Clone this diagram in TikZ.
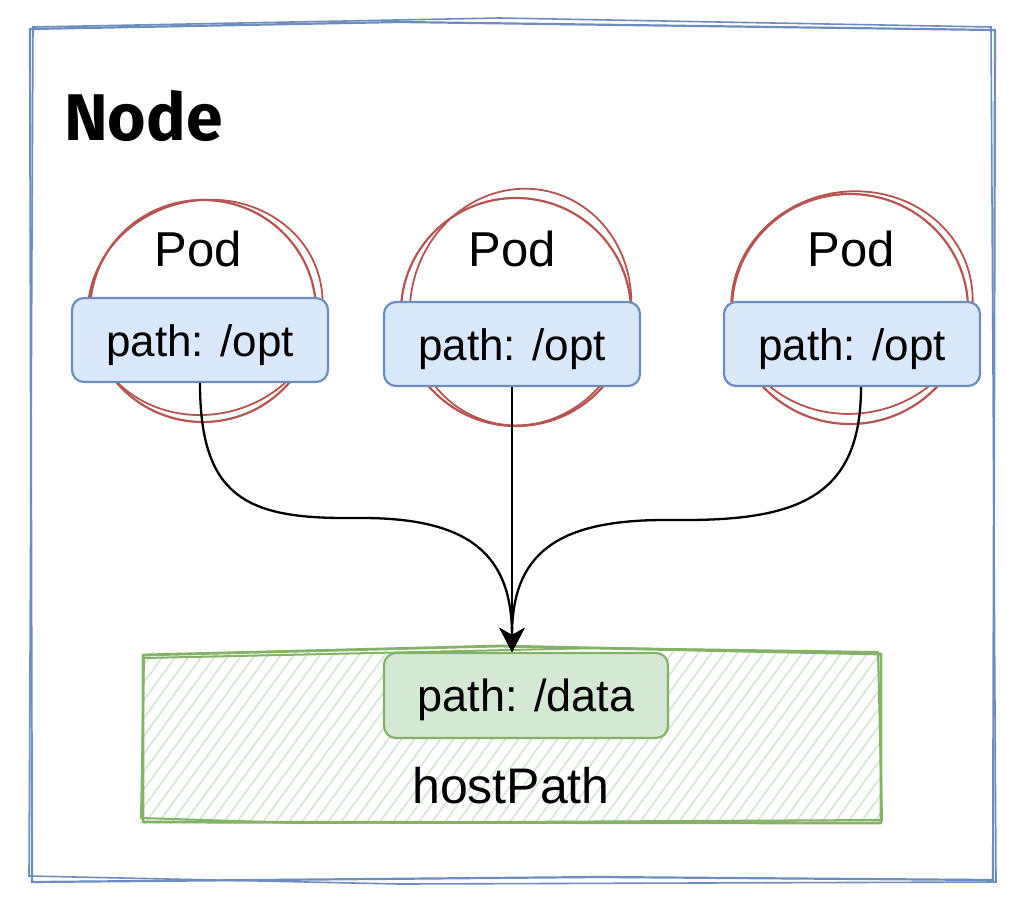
\documentclass[tikz,border=0pt]{standalone}
\usepackage{fontspec}
\setmainfont{Liberation Sans}
\newfontfamily\handfont{Fira Sans}
\usetikzlibrary{arrows.meta,shapes.geometric}
\definecolor{blueline}{HTML}{6C8EBF}
\definecolor{bluefill}{HTML}{DAE8FC}
\definecolor{greenline}{HTML}{82B366}
\definecolor{greenfill}{HTML}{D5E8D4}
\definecolor{redline}{HTML}{B85450}
\definecolor{hatchcol}{HTML}{CFE5CD}
\begin{document}
\begin{tikzpicture}[x=1pt,y=-1pt,
  pathbox/.style={draw=blueline,fill=bluefill,line width=2.2pt,rounded corners=12pt,
    minimum width=256pt,minimum height=84pt,inner sep=0pt,
    font=\fontsize{44}{44}\selectfont,text height=32pt,text depth=0pt},
  databox/.style={pathbox,draw=greenline,fill=greenfill,minimum width=284pt,minimum height=85pt,
    font=\fontsize{45}{45}\selectfont,text height=32.5pt},
  podcircle/.style={ellipse,draw=redline,line width=2.2pt,inner sep=0pt},
  podsketch/.style={draw=redline,line width=1.8pt},
  podlabel/.style={inner sep=0pt,font=\fontsize{49}{49}\selectfont,text height=35pt,text depth=0pt},
  outerline/.style={draw=blueline,line width=2.2pt},
  greenedge/.style={draw=greenline,line width=2.8pt,line join=round},
  conn/.style={draw=black,line width=2.3pt,-{Stealth[length=24pt,width=25pt,inset=7pt]}},
  hatchline/.style={draw=hatchcol,line width=1.4pt}
]
\useasboundingbox (0,0) rectangle (1024,913);
\fill[white] (0,0) rectangle (1024,913);

% outer Node frame (sketchy double stroke)
\draw[outerline] (30,29) -- (400,22) -- (995,30) -- (993,880) -- (600,877) -- (32,882) -- cycle;
\draw[outerline,line width=1.6pt] (33,27) -- (500,18) -- (991,27) -- (996,882) -- (400,884) -- (29,876) -- cycle;
\node[anchor=base west,inner sep=0pt,font=\handfont\bfseries\fontsize{66}{66}\selectfont] (nodelabel) at (64,140) {Node};

% pods: circles
\node[podcircle,minimum width=226pt,minimum height=222pt] (c1) at (203,311) {};
\draw[podsketch,rotate around={14:(203,311)}] (206,308) ellipse [x radius=118, y radius=107];
\node[podcircle,minimum width=230pt,minimum height=228pt] (c2) at (516,312) {};
\draw[podsketch,rotate around={-16:(516,312)}] (519,306) ellipse [x radius=110, y radius=119];
\node[podcircle,minimum width=236pt,minimum height=230pt] (c3) at (850,309) {};
\draw[podsketch,rotate around={10:(850,309)}] (853,303) ellipse [x radius=121, y radius=111];

\node[podlabel] (pod1) at (198,249) {Pod};
\node[podlabel] (pod2) at (512,249) {Pod};
\node[podlabel] (pod3) at (851,249) {Pod};

% path boxes
\node[pathbox] (b1) at (200,340) {path: /opt};
\node[pathbox] (b2) at (512,344) {path: /opt};
\node[pathbox] (b3) at (852,344) {path: /opt};

% hostPath area
\begin{scope}
  \clip (143,652) rectangle (881,823);
  \foreach \x in {0,13,...,900} {
    \draw[hatchline] (\x,826) -- (\x+130,648);
  }
\end{scope}
\draw[greenedge] (143,655) -- (500,646) -- (881,654) -- (881,823) -- (143,822) -- cycle;
\draw[greenedge,line width=2pt] (144,658) -- (600,648) -- (878,652) -- (882,820) -- (300,823) -- (141,818) -- cycle;
\node[inner sep=0pt,font=\fontsize{50}{50}\selectfont,text height=36pt,text depth=0pt] (hp) at (511,785) {hostPath};
\node[databox] (d) at (526,695.5) {path: /data};

% connectors
\coordinate (tip) at (512,652);
\draw[conn] (b1.south) .. controls (200,495) and (245,518) .. (345,518) -- (362,518)
  .. controls (470,518) and (512,555) .. (tip);
\draw[conn] (b2.south) -- (tip);
\draw[conn] ([xshift=9pt]b3.south) .. controls (861,495) and (800,520) .. (685,520) -- (665,520)
  .. controls (555,520) and (512,555) .. (tip);
\end{tikzpicture}
\end{document}
